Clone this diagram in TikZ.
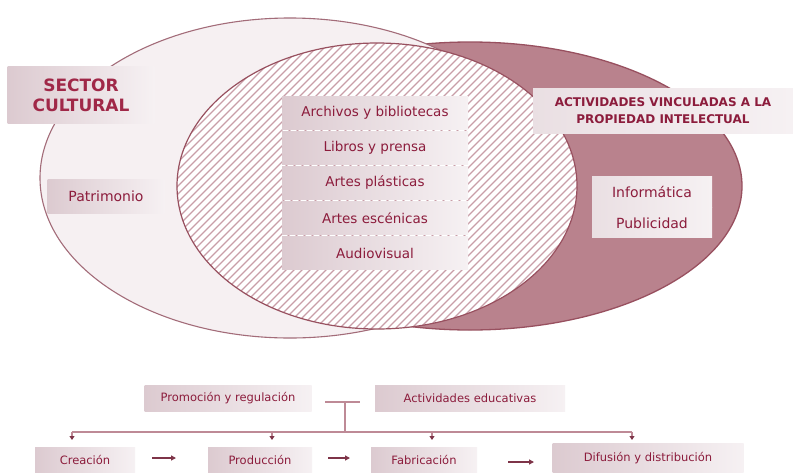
\documentclass[tikz,border=0pt]{standalone}
\usepackage{fontspec}
\setmainfont{DejaVu Sans}
\usetikzlibrary{arrows.meta}
\definecolor{textc}{HTML}{8C1C3C}
\definecolor{titlec}{HTML}{A02848}
\definecolor{darkfill}{HTML}{B9828D}
\definecolor{darkline}{HTML}{98505F}
\definecolor{lightfill}{HTML}{F6F0F2}
\definecolor{lightline}{HTML}{A36C79}
\definecolor{hatchc}{HTML}{C99EA8}
\definecolor{boxL}{HTML}{DCCAD0}
\definecolor{boxR}{HTML}{F6F1F3}
\definecolor{flowc}{HTML}{BE8A96}
\definecolor{tipc}{HTML}{7E3448}
\tikzset{
  gbox/.style={rectangle, inner sep=0pt, left color=boxL, right color=boxR, text=textc},
  rowbox/.style={gbox, minimum width=186pt, minimum height=33pt, font=\fontsize{13.5}{15}\selectfont},
  sidebox/.style={gbox, font=\fontsize{14}{16}\selectfont},
  flowbox/.style={gbox, minimum height=26pt, font=\fontsize{11.5}{13}\selectfont},
  flowline/.style={draw=flowc, line width=1.8pt},
  downtip/.style={draw=flowc, line width=1.2pt, -{Triangle[length=4pt,width=5pt,color=tipc]}},
  steparrow/.style={draw=tipc, line width=1.4pt, -{Triangle[length=5pt,width=5pt]}}
}
\begin{document}
\begin{tikzpicture}[x=1pt,y=-1pt]
\fill[white] (0,0) rectangle (793,472);
\useasboundingbox (0,0) rectangle (793,472);
% ellipses
\filldraw[fill=darkfill, draw=darkline, line width=1.3pt] (470,186) ellipse [x radius=272pt, y radius=144pt];
\filldraw[fill=lightfill, draw=lightline, line width=1.1pt] (290,178) ellipse [x radius=250pt, y radius=160pt];
\begin{scope}
  \clip (377,186) ellipse [x radius=200pt, y radius=143pt];
  \fill[white] (170,40) rectangle (580,335);
  \foreach \i in {-200,-192,...,700} \draw[hatchc, line width=1.3pt] (\i,340) -- ++(320,-320);
\end{scope}
\draw[darkline, line width=1.2pt] (377,186) ellipse [x radius=200pt, y radius=143pt];
% title boxes
\node[gbox, minimum width=147pt, minimum height=57pt, font=\fontsize{17}{20}\bfseries\selectfont, text=titlec, align=center] (sector) at (81,95) {SECTOR\\CULTURAL};
\node[sidebox, minimum width=117pt, minimum height=34pt] (patri) at (106,196) {Patrimonio};
\node[gbox, left color=boxL!60!white, right color=boxR, minimum width=260pt, minimum height=45pt, font=\fontsize{12}{17}\bfseries\selectfont, align=center] (apint) at (663,111) {ACTIVIDADES VINCULADAS A LA\\PROPIEDAD INTELECTUAL};
\node[sidebox, left color=boxL!60!white, minimum width=120pt, minimum height=31pt] (info) at (652,192) {Informática};
\node[sidebox, left color=boxL!60!white, minimum width=120pt, minimum height=30pt, anchor=north] (publi) at (info.south) {Publicidad};
% central column
\node[rowbox] (arch) at (375,113) {Archivos y bibliotecas};
\node[rowbox] (libros) at (375,148) {Libros y prensa};
\node[rowbox] (plast) at (375,183) {Artes plásticas};
\node[rowbox] (esce) at (375,218) {Artes escénicas};
\node[rowbox] (audio) at (375,253) {Audiovisual};
% bottom flow
\node[flowbox, minimum width=167pt] (promo) at (228,398) {Promoción y regulación};
\node[flowbox, minimum width=190pt] (educ) at (470,398) {Actividades educativas};
\node[flowbox, minimum width=100pt] (crea) at (85,460) {Creación};
\node[flowbox, minimum width=104pt] (prod) at (260,460) {Producción};
\node[flowbox, minimum width=106pt] (fabr) at (424,460) {Fabricación};
\node[flowbox, minimum width=191pt, minimum height=29pt] (difu) at (648,458) {Difusión y distribución};
% bracket
\coordinate (bl) at (325,402);
\coordinate (br) at (360,402);
\coordinate (bm) at (345,402);
\coordinate (jm) at (345,432);
\coordinate (hl) at (72,432);
\coordinate (hr) at (632,432);
\draw[flowline] (bl) -- (br);
\draw[flowline] (bm) -- (jm);
\draw[flowline] (hl) -- (hr);
\foreach \xx/\nm in {72/crea,272/prod,432/fabr,632/difu}
  \draw[downtip] (\xx,432) -- (\xx,440);
% step arrows
\coordinate (s1a) at (152,458);
\coordinate (s1b) at (176,458);
\coordinate (s2a) at (328,458);
\coordinate (s2b) at (350,458);
\coordinate (s3a) at (508,462);
\coordinate (s3b) at (534,462);
\draw[steparrow] (s1a) -- (s1b);
\draw[steparrow] (s2a) -- (s2b);
\draw[steparrow] (s3a) -- (s3b);
\end{tikzpicture}
\end{document}
